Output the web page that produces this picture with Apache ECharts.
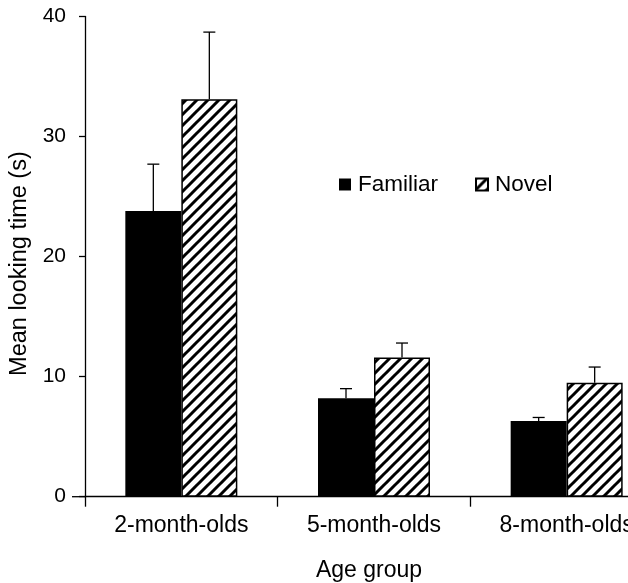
<!DOCTYPE html>
<html><head><meta charset="utf-8">
<script src="https://cdn.jsdelivr.net/npm/echarts@6/dist/echarts.min.js"></script>
<style>html,body{margin:0;padding:0;background:#fff}#c{width:628px;height:583px}</style>
</head><body><div id="c"></div>
<script>
// ---- data ----
const categories = ['2-month-olds', '5-month-olds', '8-month-olds'];
const familiarMean = [23.8, 8.2, 6.3];
const familiarUpper = [27.7, 9.0, 6.6];
const novelMean = [33.1, 11.6, 9.5];
const novelUpper = [38.7, 12.8, 10.8];
const yTickValues = [0, 10, 20, 30, 40];
const seriesNames = ['Familiar', 'Novel'];

// ---- style ----
const FONT = 'Liberation Sans, Arial, Helvetica, sans-serif';
const BAR_W = 56;
const GRID_LEFT = 85;

function hatch() {
  const c = document.createElement('canvas');
  c.width = 11; c.height = 11;
  const g = c.getContext('2d');
  g.fillStyle = '#fff'; g.fillRect(0, 0, 11, 11);
  g.strokeStyle = '#000'; g.lineWidth = 3; g.beginPath();
  for (const x0 of [0, 11, 22]) { g.moveTo(x0 - 12, 12); g.lineTo(x0 + 1, -1); }
  g.stroke();
  return c;
}
const hatchFill = { image: hatch(), repeat: 'repeat' };

function errRenderer(sign) {
  return function (params, api) {
    const i = api.value(0);
    const lo = api.coord([i, api.value(1)]);
    const hi = api.coord([i, api.value(2)]);
    const x = lo[0] + sign * BAR_W / 2;
    const st = { stroke: '#000', lineWidth: 1.3 };
    return {
      type: 'group',
      children: [
        { type: 'line', shape: { x1: x, y1: lo[1], x2: x, y2: hi[1] }, style: st },
        { type: 'line', shape: { x1: x - 6, y1: hi[1], x2: x + 6, y2: hi[1] }, style: st }
      ]
    };
  };
}

const chart = echarts.init(document.getElementById('c'), null, { renderer: 'canvas' });
chart.setOption({
  backgroundColor: '#fff',
  animation: false,
  textStyle: { fontFamily: FONT, color: '#000' },
  grid: { left: GRID_LEFT, top: 16.5, width: 578, bottom: 86.3, containLabel: false, outerBoundsMode: 'none' },
  legend: {
    data: seriesNames,
    left: 339, top: 173, padding: 0,
    icon: 'rect', itemWidth: 12, itemHeight: 12, itemGap: 37,
    textStyle: { fontSize: 22.5, color: '#000', fontFamily: FONT, padding: [0, 0, 0, 2] }
  },
  xAxis: {
    type: 'category', data: categories,
    name: 'Age group', nameLocation: 'middle', nameGap: 62,
    nameTextStyle: { fontSize: 23, color: '#000', fontFamily: FONT, padding: [0, 10, 0, 0] },
    axisLine: { lineStyle: { color: '#000', width: 1.3 } },
    axisTick: { show: true, length: 10, interval: 0, lineStyle: { color: '#000', width: 1.3 } },
    axisLabel: { fontSize: 23, color: '#000', margin: 17, interval: 0, fontFamily: FONT, hideOverlap: false },
    splitLine: { show: false }
  },
  yAxis: {
    type: 'value', min: yTickValues[0], max: yTickValues[yTickValues.length - 1],
    interval: yTickValues[1] - yTickValues[0],
    name: 'Mean looking time (s)', nameLocation: 'middle', nameGap: 50,
    nameTextStyle: { fontSize: 23.5, color: '#000', fontFamily: FONT, padding: [0, 14, 0, 0] },
    axisLine: { show: true, lineStyle: { color: '#000', width: 1.3 } },
    axisTick: { show: true, length: 6, lineStyle: { color: '#000', width: 1.3 } },
    axisLabel: { fontSize: 21, color: '#000', margin: 19, fontFamily: FONT },
    splitLine: { show: false }
  },
  series: [
    { name: seriesNames[0], type: 'bar', data: familiarMean, barWidth: BAR_W, barGap: '0%',
      itemStyle: { color: '#000', borderColor: '#000', borderWidth: 0 } },
    { name: seriesNames[1], type: 'bar', data: novelMean, barWidth: BAR_W, barGap: '0%',
      itemStyle: { color: hatchFill, borderColor: '#000', borderWidth: 1.5 } },
    { type: 'custom', renderItem: errRenderer(-1), z: 5,
      encode: { x: 0, y: [1, 2] },
      data: familiarMean.map((m, i) => [i, m, familiarUpper[i]]) },
    { type: 'custom', renderItem: errRenderer(1), z: 5,
      encode: { x: 0, y: [1, 2] },
      data: novelMean.map((m, i) => [i, m, novelUpper[i]]) }
  ]
});
// x-axis line extends a little to the left of the y axis (axis decoration)
const y0 = chart.convertToPixel({ yAxisIndex: 0 }, 0);
chart.setOption({
  graphic: [{ type: 'line', shape: { x1: GRID_LEFT - 13, y1: y0, x2: GRID_LEFT, y2: y0 },
    style: { stroke: '#000', lineWidth: 1.3 } }]
});
</script></body></html>
